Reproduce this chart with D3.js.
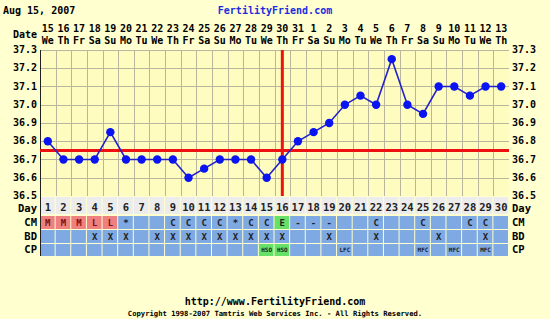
<!DOCTYPE html>
<html>
<head>
<meta charset="utf-8">
<script src="https://cdn.jsdelivr.net/npm/d3@7"></script>
<style>
  body { margin: 0; background: #ffffd0; }
  svg { display: block; }
  text { font-family: 'DejaVu Sans Mono', monospace; font-weight: bold; }
</style>
</head>
<body>
<svg width="550" height="319"></svg>
<script>
const days = d3.range(1, 31);
const dates = ['15', '16', '17', '18', '19', '20', '21', '22', '23', '24', '25', '26', '27', '28', '29',
  '30', '31', '1', '2', '3', '4', '5', '6', '7', '8', '9', '10', '11', '12', '13'];
const weekdays = ['We', 'Th', 'Fr', 'Sa', 'Su', 'Mo', 'Tu', 'We', 'Th', 'Fr', 'Sa', 'Su', 'Mo', 'Tu', 'We',
  'Th', 'Fr', 'Sa', 'Su', 'Mo', 'Tu', 'We', 'Th', 'Fr', 'Sa', 'Su', 'Mo', 'Tu', 'We', 'Th'];
const temps = [36.8, 36.7, 36.7, 36.7, 36.85, 36.7, 36.7, 36.7, 36.7, 36.6, 36.65, 36.7, 36.7, 36.7, 36.6,
  36.7, 36.8, 36.85, 36.9, 37.0, 37.05, 37.0, 37.25, 37.0, 36.95, 37.1, 37.1, 37.05, 37.1, 37.1];
const cm = ['M', 'M', 'M', 'L', 'L', '*', '', '', 'C', 'C', 'C', 'C', '*', 'C', 'C',
  'E', '-', '-', '-', '', '', 'C', '', '', 'C', '', '', 'C', 'C', ''];
const bd = ['', '', '', 'X', 'X', 'X', '', 'X', 'X', 'X', 'X', 'X', 'X', 'X', 'X',
  'X', '', '', 'X', '', '', 'X', '', '', '', 'X', '', '', 'X', ''];
const cp = ['', '', '', '', '', '', '', '', '', '', '', '', '', '', 'HSO',
  'HSO', '', '', '', 'LFC', '', '', '', '', 'MFC', '', 'MFC', '', 'MFC', ''];
const yTicks = [36.5, 36.6, 36.7, 36.8, 36.9, 37.0, 37.1, 37.2, 37.3];
const coverline = 36.75;
const ovulationDay = 16;

const svg = d3.select('svg');

const x = d3.scaleBand().domain(days).range([40, 509]);
const y = d3.scaleLinear().domain([36.5, 37.3]).range([196, 50]);
const cx = d => x(d) + x.bandwidth() / 2;

// title
svg.append('text').attr('x', 3).attr('y', 14).attr('font-size', 10).text('Aug 15, 2007');
svg.append('text').attr('x', 275).attr('y', 14).attr('font-size', 10)
  .attr('text-anchor', 'middle').attr('fill', '#1a2ee0').text('FertilityFriend.com');

// date header
svg.append('text').attr('x', 37).attr('y', 38).attr('font-size', 10)
  .attr('text-anchor', 'end').text('Date');
svg.append('g').selectAll('text').data(days).enter().append('text')
  .attr('x', cx).attr('y', 32).attr('font-size', 10).attr('text-anchor', 'middle')
  .text((d, i) => dates[i]);
svg.append('g').selectAll('text').data(days).enter().append('text')
  .attr('x', cx).attr('y', 44).attr('font-size', 10).attr('text-anchor', 'middle')
  .text((d, i) => weekdays[i]);

// plot area
svg.append('rect').attr('x', 40).attr('y', 50).attr('width', 469).attr('height', 146)
  .attr('fill', '#fffcc0');
const grid = svg.append('g').attr('stroke', '#b8b69c').attr('stroke-width', 1);
grid.selectAll('.v').data(days.slice(1)).enter().append('line')
  .attr('x1', d => Math.round(x(d)) + 0.5).attr('x2', d => Math.round(x(d)) + 0.5)
  .attr('y1', 50).attr('y2', 196);
grid.selectAll('.h').data(yTicks.slice(1, -1)).enter().append('line')
  .attr('x1', 40).attr('x2', 509)
  .attr('y1', d => Math.round(y(d)) + 0.5).attr('y2', d => Math.round(y(d)) + 0.5);
grid.append('line').attr('x1', 40).attr('x2', 509).attr('y1', 50.5).attr('y2', 50.5);

// axis labels
svg.append('g').selectAll('text').data(yTicks).enter().append('text')
  .attr('x', 37).attr('y', d => y(d) + 3).attr('font-size', 10).attr('text-anchor', 'end')
  .text(d => d.toFixed(1));
svg.append('g').selectAll('text').data(yTicks).enter().append('text')
  .attr('x', 512).attr('y', d => y(d) + 3).attr('font-size', 10)
  .text(d => d.toFixed(1));

// bottom rows
const rows = [
  { name: 'Day', y0: 198, h: 17, base: 13.5, vals: days.map(String), fill: '#ececec', size: 10.5 },
  { name: 'CM', y0: 216, h: 13, base: 10, vals: cm, fill: '#7ea9e2', size: 9 },
  { name: 'BD', y0: 230, h: 13, base: 10, vals: bd, fill: '#7ea9e2', size: 9 },
  { name: 'CP', y0: 244, h: 12, base: 8.5, vals: cp, fill: '#7ea9e2', size: 6 }
];
const cellFill = (r, v) => {
  if (r.name === 'CM' && (v === 'M' || v === 'L')) return '#ee8080';
  if ((r.name === 'CM' && v === 'E') || v === 'HSO') return '#66e066';
  return r.fill;
};
rows.forEach((r) => {
  const g = svg.append('g');
  g.selectAll('rect').data(days).enter().append('rect')
    .attr('x', d => x(d)).attr('y', r.y0 - (r.name === 'Day' ? 1 : 0))
    .attr('width', x.bandwidth() - 1).attr('height', r.h)
    .attr('fill', (d, i) => cellFill(r, r.vals[i]));
  g.selectAll('text').data(days).enter().append('text')
    .attr('x', cx).attr('y', r.y0 + (r.name === 'CP' ? 8 : r.base - 0.5))
    .attr('font-size', r.size).attr('text-anchor', 'middle')
    .attr('fill', (d, i) => (r.name === 'CM' && i < 5 ? '#801010' : '#222'))
    .text((d, i) => r.vals[i]);
  svg.append('text').attr('x', 37).attr('y', r.y0 + r.base).attr('font-size', 10.5)
    .attr('text-anchor', 'end').text(r.name);
  svg.append('text').attr('x', 512).attr('y', r.y0 + r.base).attr('font-size', 10.5)
    .text(r.name);
});

// left axis line
svg.append('line').attr('x1', 40.5).attr('x2', 40.5).attr('y1', 50).attr('y2', 256)
  .attr('stroke', '#222').attr('stroke-width', 1);

// coverline and ovulation
svg.append('line').attr('x1', 40).attr('x2', 509)
  .attr('y1', y(coverline)).attr('y2', y(coverline))
  .attr('stroke', '#ee1111').attr('stroke-width', 3);
svg.append('line').attr('x1', cx(ovulationDay)).attr('x2', cx(ovulationDay))
  .attr('y1', 50).attr('y2', 196)
  .attr('stroke', '#ee1111').attr('stroke-width', 3);

// temperature line
const pts = days.map((d, i) => [cx(d), y(temps[i])]);
svg.append('path').attr('d', d3.line()(pts))
  .attr('fill', 'none').attr('stroke', '#2222cc').attr('stroke-width', 1.6);
svg.append('g').selectAll('circle').data(pts).enter().append('circle')
  .attr('cx', d => d[0]).attr('cy', d => d[1]).attr('r', 4.2).attr('fill', '#0a14f0');

// footer
svg.append('text').attr('x', 275).attr('y', 305).attr('font-size', 10)
  .attr('text-anchor', 'middle').text('http://www.FertilityFriend.com');
svg.append('text').attr('x', 275).attr('y', 316).attr('font-size', 7.2)
  .attr('text-anchor', 'middle').attr('font-weight', 'normal')
  .text('Copyright 1998-2007 Tamtris Web Services Inc. - All Rights Reserved.');
</script>
</body>
</html>
